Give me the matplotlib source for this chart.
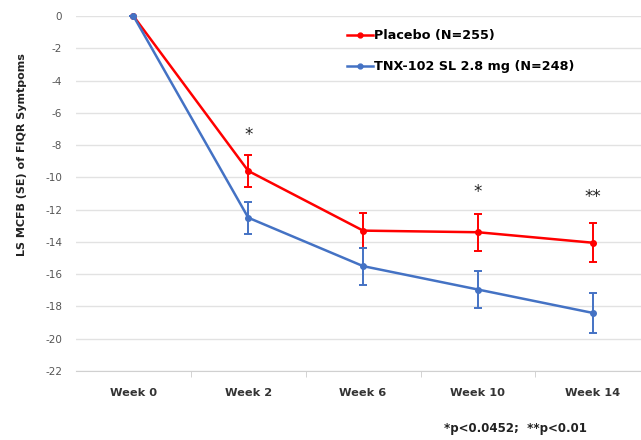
import matplotlib.pyplot as plt
from matplotlib.lines import Line2D

plt.rcParams['axes.unicode_minus'] = False

# 데이터
weeks = ['Week 0', 'Week 2', 'Week 6', 'Week 10', 'Week 14']
placebo = [0, -9.6, -13.3, -13.4, -14.05]
placebo_se = [0, 1.0, 1.1, 1.15, 1.2]
tnx = [0, -12.5, -15.5, -16.95, -18.4]
tnx_se = [0, 1.0, 1.15, 1.15, 1.25]
stars = ['', '*', '', '*', '**']
star_y = [0, -7.4, 0, -10.9, -11.2]

red = '#ff0000'
blue = '#4472c4'

fig = plt.figure(figsize=(6.41, 4.4), dpi=100)
ax = fig.add_axes([0.1186, 0.1568, 0.8814, 0.8068])

x = list(range(len(weeks)))

ax.errorbar(x, placebo, yerr=placebo_se, color=red,
            lw=1.8, marker='o', ms=4, capsize=3, elinewidth=1.4, capthick=1.4,
            clip_on=False, zorder=3)
ax.errorbar(x, tnx, yerr=tnx_se, color=blue,
            lw=1.8, marker='o', ms=4, capsize=3, elinewidth=1.4, capthick=1.4,
            clip_on=False, zorder=4)

for i, s in enumerate(stars):
    if s:
        ax.text(i, star_y[i], s, ha='center', va='center', fontsize=12, color='#222222')

ax.set_ylim(-22, 0)
ax.set_xlim(-0.5, 4.42)
ax.set_yticks(range(-22, 1, 2))
ax.set_xticks(x)
ax.set_xticklabels(weeks, fontweight='bold', fontsize=8.2, color='#333333')
ax.set_xticks([0.5, 1.5, 2.5, 3.5], minor=True)
ax.tick_params(axis='x', which='major', length=0, pad=12)
ax.tick_params(axis='x', which='minor', length=4, color='#cccccc')
ax.tick_params(axis='y', length=0, labelsize=7.5, labelcolor='#555555', pad=10)

ax.grid(axis='y', color='#e2e2e2', lw=1)
ax.set_axisbelow(True)
for sp in ['top', 'right', 'left']:
    ax.spines[sp].set_visible(False)
ax.spines['bottom'].set_color('#d0d0d0')

ax.set_ylabel('LS MCFB (SE) of FIQR Symtpoms', fontweight='bold', fontsize=8,
              color='#222222')
ax.yaxis.set_label_coords(-0.086, 0.611)

handles = [Line2D([], [], color=red, lw=1.8, marker='o', ms=3.5),
           Line2D([], [], color=blue, lw=1.8, marker='o', ms=3.5)]
ax.legend(handles, ['Placebo (N=255)', 'TNX-102 SL 2.8 mg (N=248)'],
          loc='upper left', bbox_to_anchor=(0.46, 0.995), frameon=False,
          prop={'weight': 'bold', 'size': 9.2}, handlelength=2.0,
          handletextpad=0.1, labelspacing=1.4)

fig.text(0.915, 0.027, '*p<0.0452;  **p<0.01', ha='right', va='center',
         fontsize=8.5, fontweight='bold', color='#222222')

fig.savefig('out.png', dpi=100)
